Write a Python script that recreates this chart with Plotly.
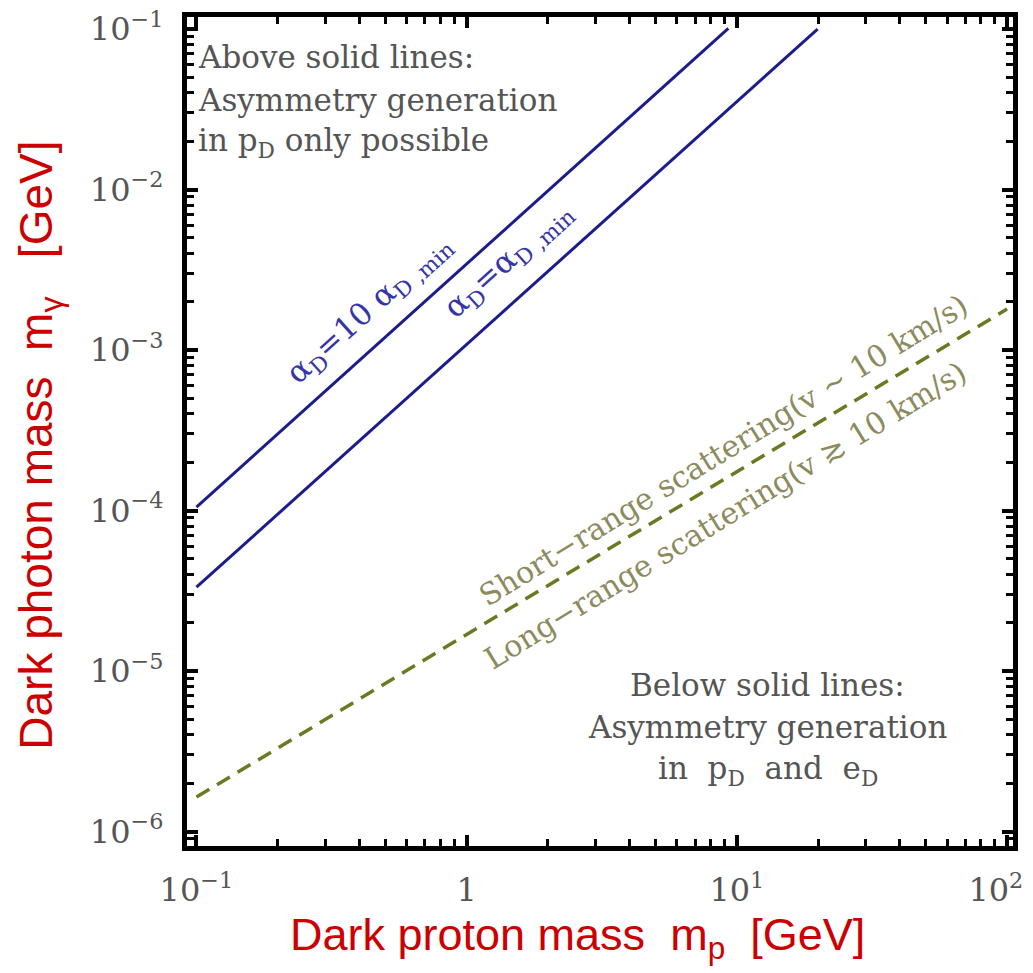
import plotly.graph_objects as go

# Line endpoints (GeV) read as straight lines on the log-log plane
alpha10_x = [0.1, 9.3]
alpha10_y = [1.05e-4, 0.101]
alpha1_x = [0.1, 19.9]
alpha1_y = [3.33e-5, 0.1]
scatter_x = [0.1, 100]
scatter_y = [1.64e-6, 1.8e-3]

# Axis ticks (the last x label is padded so it stays inside the page)
x_major = [0.1, 1, 10, 100]
x_major_text = ["10<sup>−1</sup>", "1", "10<sup>1</sup>",
                "10<sup>2</sup>\u2002\u2009"]
y_major = [1e-6, 1e-5, 1e-4, 1e-3, 1e-2, 1e-1]
y_major_text = ["10<sup>−6</sup>", "10<sup>−5</sup>", "10<sup>−4</sup>",
                "10<sup>−3</sup>", "10<sup>−2</sup>", "10<sup>−1</sup>"]
x_minor = [k * 10.0 ** e for e in range(-1, 2) for k in range(2, 10)]
y_minor = [k * 10.0 ** e for e in range(-7, -1) for k in range(2, 10)]

# Region descriptions, one entry per text line
above_lines = ["Above solid lines:", "Asymmetry generation",
               "in p<sub>D</sub> only possible"]
below_lines = ["Below solid lines:", "Asymmetry generation",
               "in\u00a0 p<sub>D</sub>\u00a0 and\u00a0 e<sub>D</sub>"]

NAVY = "#1c1c8a"
OLIVE = "#6b7a22"
OLIVE_TEXT = "#8b8b5e"
GREY = "#555555"
RED = "#cc0000"
SERIF = "DejaVu Serif"
SANS = "Liberation Sans"

fig = go.Figure()
fig.add_trace(go.Scatter(x=alpha10_x, y=alpha10_y, mode="lines",
                         line=dict(color=NAVY, width=3), showlegend=False))
fig.add_trace(go.Scatter(x=alpha1_x, y=alpha1_y, mode="lines",
                         line=dict(color=NAVY, width=3), showlegend=False))
fig.add_trace(go.Scatter(x=scatter_x, y=scatter_y, mode="lines",
                         line=dict(color=OLIVE, width=3.5, dash="15px,9px"),
                         showlegend=False))

axis_common = dict(
    type="log", showgrid=False, zeroline=False, automargin=False,
    showline=True, linecolor="black", linewidth=5, mirror="allticks",
    ticks="inside", ticklen=11, tickwidth=3.5, tickcolor="black",
    tickmode="array", ticklabeloverflow="allow",
    tickfont=dict(family=SERIF, size=32, color=GREY),
)

fig.update_xaxes(
    **axis_common, range=[-1.035, 2.022],
    tickvals=x_major, ticktext=x_major_text,
    minor=dict(ticks="inside", ticklen=7, tickwidth=3, tickcolor="black",
               tickmode="array", tickvals=x_minor, showgrid=False),
    ticklabelstandoff=12,
)
fig.update_yaxes(
    **axis_common, range=[-6.09, -0.925],
    tickvals=y_major, ticktext=y_major_text,
    minor=dict(ticks="inside", ticklen=7, tickwidth=3, tickcolor="black",
               tickmode="array", tickvals=y_minor, showgrid=False),
    ticklabelstandoff=12,
)

annotations = []
# upper-left block, left aligned
for line, ly in zip(above_lines, [-1.176, -1.444, -1.706]):
    annotations.append(dict(x=-1.0, y=ly, xref="x", yref="y", xanchor="left",
                            yanchor="middle", showarrow=False, text=line,
                            font=dict(family=SERIF, size=31, color=GREY)))
# lower-right block, centred
for line, ly in zip(below_lines, [-5.088, -5.349, -5.617]):
    annotations.append(dict(x=1.115, y=ly, xref="x", yref="y", xanchor="center",
                            yanchor="middle", showarrow=False, text=line,
                            font=dict(family=SERIF, size=31, color=GREY)))

annotations += [
    # line labels
    dict(x=-0.359, y=-2.75, xref="x", yref="y", showarrow=False, textangle=-42,
         xanchor="center", yanchor="middle",
         text="α<sub>D</sub>=10 α<sub>D ,min</sub>",
         font=dict(family=SERIF, size=31, color="#3535a8")),
    dict(x=0.155, y=-2.445, xref="x", yref="y", showarrow=False, textangle=-42,
         xanchor="center", yanchor="middle",
         text="α<sub>D</sub>=α<sub>D ,min</sub>",
         font=dict(family=SERIF, size=31, color="#3535a8")),
    dict(x=0.948, y=-3.623, xref="x", yref="y", showarrow=False, textangle=-31.5,
         xanchor="center", yanchor="middle",
         text="Short−range scattering(v ~ 10 km/s)",
         font=dict(family=SERIF, size=30, color=OLIVE_TEXT)),
    dict(x=0.956, y=-4.028, xref="x", yref="y", showarrow=False, textangle=-31.5,
         xanchor="center", yanchor="middle",
         text="Long−range scattering(v ≳ 10 km/s)",
         font=dict(family=SERIF, size=30, color=OLIVE_TEXT)),
    # axis titles
    dict(x=0.473, y=-0.11, xref="paper", yref="paper", showarrow=False,
         xanchor="center", yanchor="middle",
         text="Dark proton mass\u00a0 m<sub>p</sub>\u00a0 [GeV]",
         font=dict(family=SANS, size=45, color=RED)),
    dict(x=-0.178, y=0.484, xref="paper", yref="paper", showarrow=False,
         xanchor="center", yanchor="middle", textangle=-90,
         text="Dark photon mass\u00a0 m<sub>γ</sub>\u00a0\u00a0 [GeV]",
         font=dict(family=SANS, size=46, color=RED)),
]

fig.update_layout(
    width=1033, height=973,
    margin=dict(l=187, r=20, t=17, b=127, autoexpand=False),
    paper_bgcolor="white", plot_bgcolor="white",
    annotations=annotations,
    showlegend=False,
)

fig.write_html("out.html")
